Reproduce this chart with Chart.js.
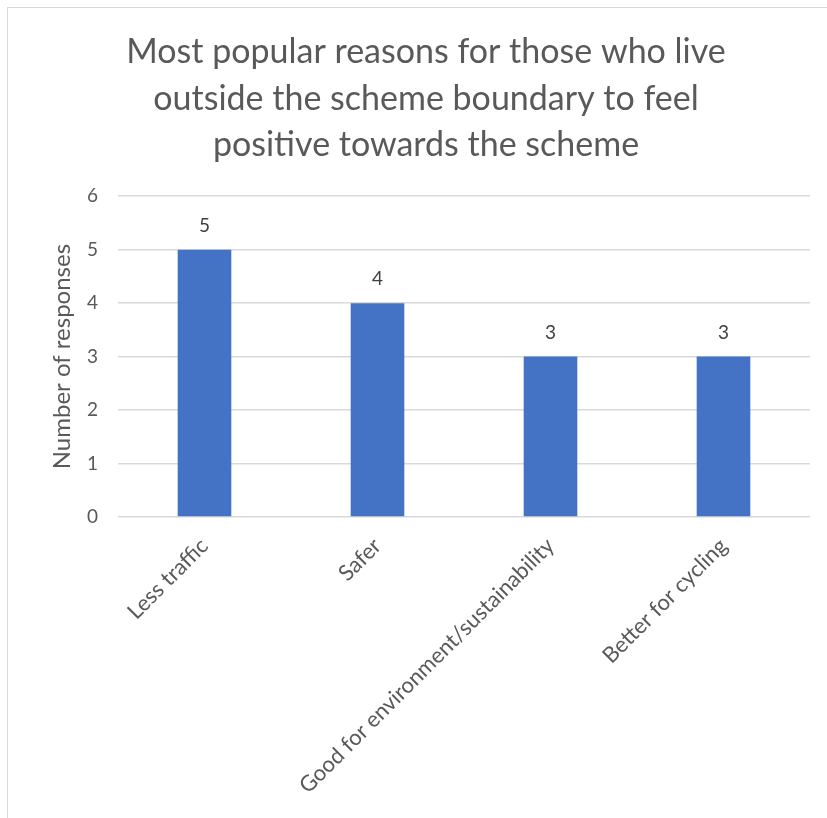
<!DOCTYPE html>
<html>
<head>
<meta charset="utf-8">
<script src="https://cdn.jsdelivr.net/npm/chart.js@4"></script>
<style>
    html, body { margin: 0; padding: 0; background: #fff; overflow: hidden; }
    #frame {
        position: absolute; left: 7px; top: 7px;
        width: 860px; height: 860px;
        border: 1px solid #d9d9d9;
    }
    #wrap { position: absolute; left: 0; top: 0; width: 827px; height: 818px; }
</style>
</head>
<body>
<div id="frame"></div>
<div id="wrap"><canvas id="reasonsChart"></canvas></div>
<script>
const categories = ['Less traffic', 'Safer', 'Good for environment/sustainability', 'Better for cycling'];
const responses = [5, 4, 3, 3];
const yTicks = [0, 1, 2, 3, 4, 5, 6];

const textColor = '#595959';
const fontFamily = 'Lato, "Open Sans", sans-serif';

// prints each bar's value just above it
const barValues = {
    id: 'barValues',
    afterDatasetsDraw(chart) {
        const ctx = chart.ctx;
        const meta = chart.getDatasetMeta(0);
        ctx.save();
        ctx.font = `19px ${fontFamily}`;
        ctx.fillStyle = '#404040';
        ctx.textAlign = 'center';
        ctx.textBaseline = 'middle';
        meta.data.forEach((bar, i) => {
            ctx.fillText(responses[i], bar.x, bar.y - 24);
        });
        ctx.restore();
    }
};

const config = {
    type: 'bar',
    data: {
        labels: categories,
        datasets: [{
            label: 'Number of responses',
            data: responses,
            backgroundColor: '#4472C4',
            categoryPercentage: 1,
            barPercentage: 0.31,
        }]
    },
    options: {
        responsive: true,
        maintainAspectRatio: false,
        animation: false,
        layout: { padding: { left: 42, right: 17, top: 0, bottom: 0 } },
        plugins: {
            legend: { display: false },
            tooltip: { enabled: false },
            title: {
                display: true,
                text: ['Most popular reasons for those who live', 'outside the scheme boundary to feel', 'positive towards the scheme'],
                color: textColor,
                font: { family: fontFamily, size: 34, weight: 'normal', lineHeight: 1.365 },
                padding: { top: 29, bottom: 28 }
            }
        },
        scales: {
            x: {
                grid: { display: false, drawTicks: false },
                border: { display: false },
                ticks: {
                    color: textColor,
                    font: { family: fontFamily, size: 22 },
                    maxRotation: 45,
                    minRotation: 45,
                    padding: 16
                },
                afterFit(scale) { scale.height = 301; }
            },
            y: {
                min: 0,
                max: 6,
                afterBuildTicks(scale) { scale.ticks = yTicks.map(v => ({ value: v })); },
                grid: { color: '#d9d9d9', lineWidth: 1.5, drawTicks: false },
                border: { display: false },
                ticks: {
                    color: textColor,
                    font: { family: fontFamily, size: 19 },
                    padding: 20
                },
                title: {
                    display: true,
                    text: 'Number of responses',
                    color: textColor,
                    font: { family: fontFamily, size: 24 },
                    padding: { top: 6, bottom: 0 }
                },
                afterFit(scale) { scale.width = 76; }
            }
        }
    },
    plugins: [barValues]
};

new Chart(document.getElementById('reasonsChart'), config);
</script>
</body>
</html>
